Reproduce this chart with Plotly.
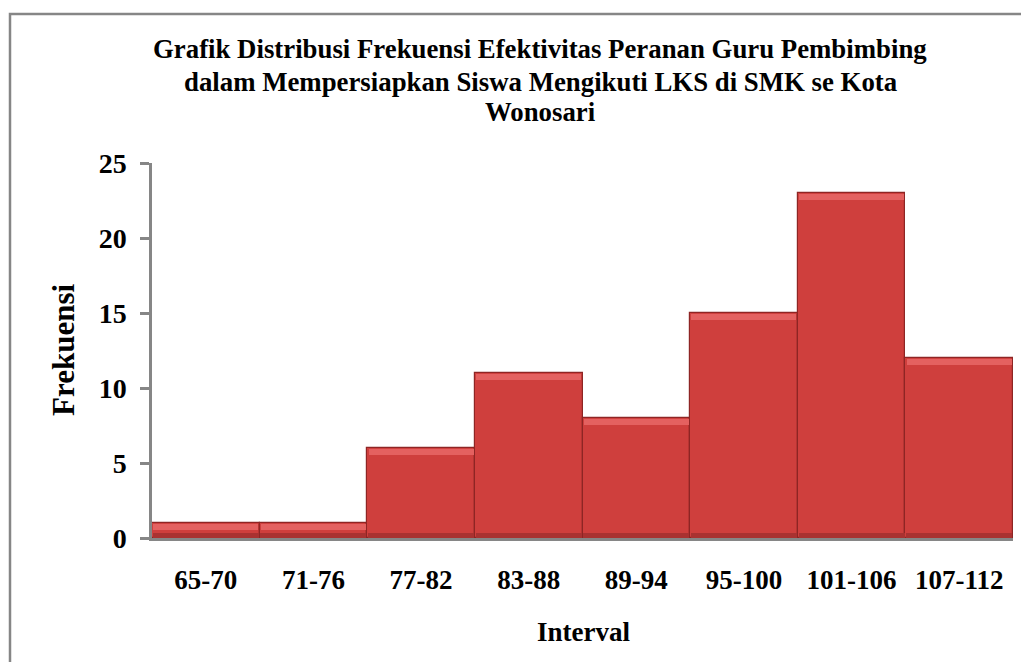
import plotly.graph_objects as go

categories = ["65-70", "71-76", "77-82", "83-88", "89-94", "95-100", "101-106", "107-112"]
frequencies = [1, 1, 6, 11, 8, 15, 23, 12]
y_ticks = [0, 5, 10, 15, 20, 25]

title_lines = [
    "Grafik Distribusi Frekuensi Efektivitas Peranan Guru Pembimbing",
    "dalam Mempersiapkan Siswa Mengikuti LKS di SMK se Kota",
    "Wonosari",
]

# page body has an 8px margin; design in screenshot pixels, convert to figure pixels
OFF = 8
W, H = 1029 - 2 * OFF, 670 - 2 * OFF
PL, PR, PT, PB = 152, 1013, 163, 538  # plot area in screenshot px
L, R, T, B = PL - OFF, (W + OFF) - PR, PT - OFF, (H + OFF) - PB
pw, ph = PR - PL, PB - PT


def px_x(x):
    return (x - PL) / pw


def px_y(y):
    return (PB - y) / ph


FONT = "Liberation Serif, Times New Roman, serif"

fig = go.Figure()
fig.add_trace(go.Bar(
    x=categories, y=frequencies,
    marker=dict(color="#cf3f3d", line=dict(color="#8e2524", width=1.2)),
    width=1.0, hoverinfo="x+y", showlegend=False,
))
# bevel highlight strip near top of each bar
strip = 0.4
fig.add_trace(go.Bar(
    x=categories, y=[strip] * len(frequencies),
    base=[v - strip - 0.05 for v in frequencies],
    marker=dict(color="#e46160", line=dict(width=0)),
    width=0.975, hoverinfo="skip", showlegend=False,
))
# darker bottom strip
fig.add_trace(go.Bar(
    x=categories, y=[0.35] * len(frequencies),
    base=[0] * len(frequencies),
    marker=dict(color="#a93231", line=dict(width=0)),
    width=0.985, hoverinfo="skip", showlegend=False,
))

fig.update_layout(
    width=W, height=H,
    margin=dict(l=L, r=R, t=T, b=B, pad=0),
    paper_bgcolor="white", plot_bgcolor="white",
    barmode="overlay", bargap=0,
    font=dict(family=FONT, color="black"),
    showlegend=False,
)
fig.update_xaxes(
    showline=True, linecolor="#868686", linewidth=2.5,
    ticks="", showgrid=False,
    tickfont=dict(size=27, family=FONT, color="black", weight="bold"),
    ticklabelstandoff=16,
)
fig.update_yaxes(
    range=[0, 25], tickvals=y_ticks,
    showline=True, linecolor="#868686", linewidth=2.5,
    ticks="outside", ticklen=9, tickcolor="#868686", tickwidth=2.5,
    showgrid=False, zeroline=False,
    tickfont=dict(size=28, family=FONT, color="black", weight="bold"),
    ticklabelstandoff=8,
)

for line, yy in zip(title_lines, [49, 82, 112]):
    fig.add_annotation(
        text="<b>%s</b>" % line, xref="paper", yref="paper",
        x=px_x(540), y=px_y(yy), xanchor="center", yanchor="middle",
        showarrow=False, font=dict(size=26.8, family=FONT, color="black"),
    )

fig.add_annotation(
    text="<b>Frekuensi</b>", xref="paper", yref="paper",
    x=px_x(63), y=px_y(350), xanchor="center", yanchor="middle",
    textangle=-90, showarrow=False, font=dict(size=31, family=FONT, color="black"),
)
fig.add_annotation(
    text="<b>Interval</b>", xref="paper", yref="paper",
    x=px_x(583), y=px_y(632), xanchor="center", yanchor="middle",
    showarrow=False, font=dict(size=27, family=FONT, color="black"),
)

fig.add_shape(
    type="rect", xref="paper", yref="paper",
    x0=px_x(10), x1=px_x(1045), y0=px_y(14), y1=px_y(690),
    line=dict(color="#868686", width=2.5), fillcolor="rgba(0,0,0,0)", layer="below",
)

fig.write_html("out.html")
